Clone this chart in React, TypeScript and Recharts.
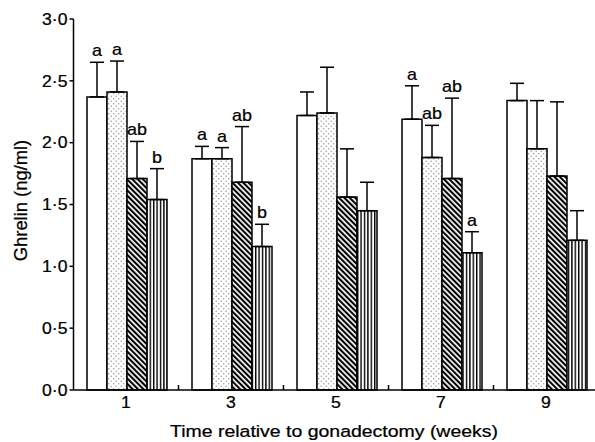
import { BarChart, Bar, XAxis, YAxis, ErrorBar, LabelList, Label } from 'recharts'

// weeks after gonadectomy
const weeks = ['1', '3', '5', '7', '9']

// group means (ng/ml) and upper SEM
const meanA = [2.37, 1.87, 2.22, 2.19, 2.34]
const errA = [0.28, 0.1, 0.19, 0.27, 0.14]
const meanB = [2.41, 1.87, 2.24, 1.88, 1.95]
const errB = [0.25, 0.09, 0.37, 0.26, 0.39]
const meanC = [1.71, 1.68, 1.56, 1.71, 1.73]
const errC = [0.3, 0.45, 0.39, 0.65, 0.6]
const meanD = [1.54, 1.16, 1.45, 1.11, 1.21]
const errD = [0.25, 0.18, 0.23, 0.17, 0.24]

// significance letters
const lettersA = ['a', 'a', '', 'a', '']
const lettersB = ['a', 'a', '', 'ab', '']
const lettersC = ['ab', 'ab', '', 'ab', '']
const lettersD = ['b', 'b', '', 'a', '']

const yTicks = [0, 0.5, 1, 1.5, 2, 2.5, 3]

const data = weeks.map((week, i) => ({
  week,
  a: meanA[i],
  aErr: [0, errA[i]],
  b: meanB[i],
  bErr: [0, errB[i]],
  c: meanC[i],
  cErr: [0, errC[i]],
  d: meanD[i],
  dErr: [0, errD[i]],
}))

const FONT = '"Liberation Sans", Arial, sans-serif'
const WIDTH = 600
const LEFT = 73.5
const RIGHT = 1.5
const BAND = (WIDTH - LEFT - RIGHT) / weeks.length

const txt = { fontFamily: FONT, fill: '#000', stroke: '#000', strokeWidth: 0.25 }

const fmt = (v: number) => v.toFixed(1).replace('.', '·')

const XTick = (props: any) => {
  const { x, y, payload } = props
  return (
    <g>
      <line x1={x + BAND / 2} x2={x + BAND / 2} y1={y} y2={y - 5} stroke="#000" strokeWidth={1.5} />
      <text transform={`translate(${x},${y + 18}) scale(1.1,1)`} textAnchor="middle" fontSize={16} {...txt}>
        {payload.value}
      </text>
    </g>
  )
}

const YTick = (props: any) => {
  const { x, y, payload } = props
  return (
    <text transform={`translate(${x},${y}) scale(1.1,1)`} textAnchor="end" dy="0.36em" fontSize={16} {...txt}>
      {fmt(payload.value)}
    </text>
  )
}

const letterContent = (errs: number[], letters: string[]) => (props: any) => {
  const { x, y, width, height, value, index } = props
  const s = letters[index]
  if (!s) return null
  const top = y - (errs[index] * height) / value
  return (
    <text
      transform={`translate(${x + width / 2},${top - 6}) scale(1.12,1)`}
      textAnchor="middle"
      fontSize={16}
      {...txt}
    >
      {s}
    </text>
  )
}

const errProps = { width: 7, stroke: '#000', strokeWidth: 1.5, direction: 'y' as const, isAnimationActive: false }

export default function App() {
  return (
    <div style={{ position: 'absolute', left: 0, top: 0, width: 595, height: 442, overflow: 'hidden', background: '#fff' }}>
      <BarChart
        width={WIDTH}
        height={442}
        data={data}
        margin={{ top: 19, right: RIGHT, left: 0, bottom: 0 }}
        barCategoryGap={13.5}
        barGap={0}
      >
        <defs>
          <pattern id="dots" width="5" height="5" patternUnits="userSpaceOnUse">
            <rect width="5" height="5" fill="#fff" />
            <circle cx="1.2" cy="1.2" r="0.75" fill="#999" />
            <circle cx="3.7" cy="3.7" r="0.75" fill="#999" />
          </pattern>
          <pattern id="diag" width="3.8" height="10" patternUnits="userSpaceOnUse" patternTransform="rotate(-45)">
            <rect width="3.8" height="10" fill="#fff" />
            <rect width="2.1" height="10" fill="#000" />
          </pattern>
          <pattern id="vert" width="3.4" height="10" patternUnits="userSpaceOnUse">
            <rect width="3.4" height="10" fill="#fff" />
            <rect width="1.4" height="10" fill="#000" />
          </pattern>
        </defs>
        <XAxis
          dataKey="week"
          height={52}
          tickLine={false}
          tickSize={0}
          tickMargin={0}
          axisLine={{ stroke: '#000', strokeWidth: 1.5 }}
          tick={<XTick />}
        >
          <Label
            content={(p: any) => {
              const vb = p.viewBox
              return (
                <text
                  transform={`translate(${vb.x + vb.width / 2 - 2},437) scale(1.18,1)`}
                  textAnchor="middle"
                  fontSize={16.5}
                  {...txt}
                >
                  Time relative to gonadectomy (weeks)
                </text>
              )
            }}
          />
        </XAxis>
        <YAxis
          width={LEFT}
          domain={[0, 3]}
          ticks={yTicks}
          tickSize={4}
          tickMargin={2}
          axisLine={{ stroke: '#000', strokeWidth: 1.5 }}
          tickLine={{ stroke: '#000', strokeWidth: 1.5 }}
          tick={<YTick />}
        />
        <text transform="translate(27,200.5) rotate(-90) scale(1.05,1)" textAnchor="middle" fontSize={17.5} {...txt}>
          Ghrelin (ng/ml)
        </text>
        <Bar dataKey="a" fill="#fff" stroke="#000" strokeWidth={1.5} isAnimationActive={false}>
          <ErrorBar dataKey="aErr" {...errProps} />
          <LabelList dataKey="a" content={letterContent(errA, lettersA)} />
        </Bar>
        <Bar dataKey="b" fill="url(#dots)" stroke="#000" strokeWidth={1.5} isAnimationActive={false}>
          <ErrorBar dataKey="bErr" {...errProps} />
          <LabelList dataKey="b" content={letterContent(errB, lettersB)} />
        </Bar>
        <Bar dataKey="c" fill="url(#diag)" stroke="#000" strokeWidth={1.5} isAnimationActive={false}>
          <ErrorBar dataKey="cErr" {...errProps} />
          <LabelList dataKey="c" content={letterContent(errC, lettersC)} />
        </Bar>
        <Bar dataKey="d" fill="url(#vert)" stroke="#000" strokeWidth={1.5} isAnimationActive={false}>
          <ErrorBar dataKey="dErr" {...errProps} />
          <LabelList dataKey="d" content={letterContent(errD, lettersD)} />
        </Bar>
      </BarChart>
    </div>
  )
}
